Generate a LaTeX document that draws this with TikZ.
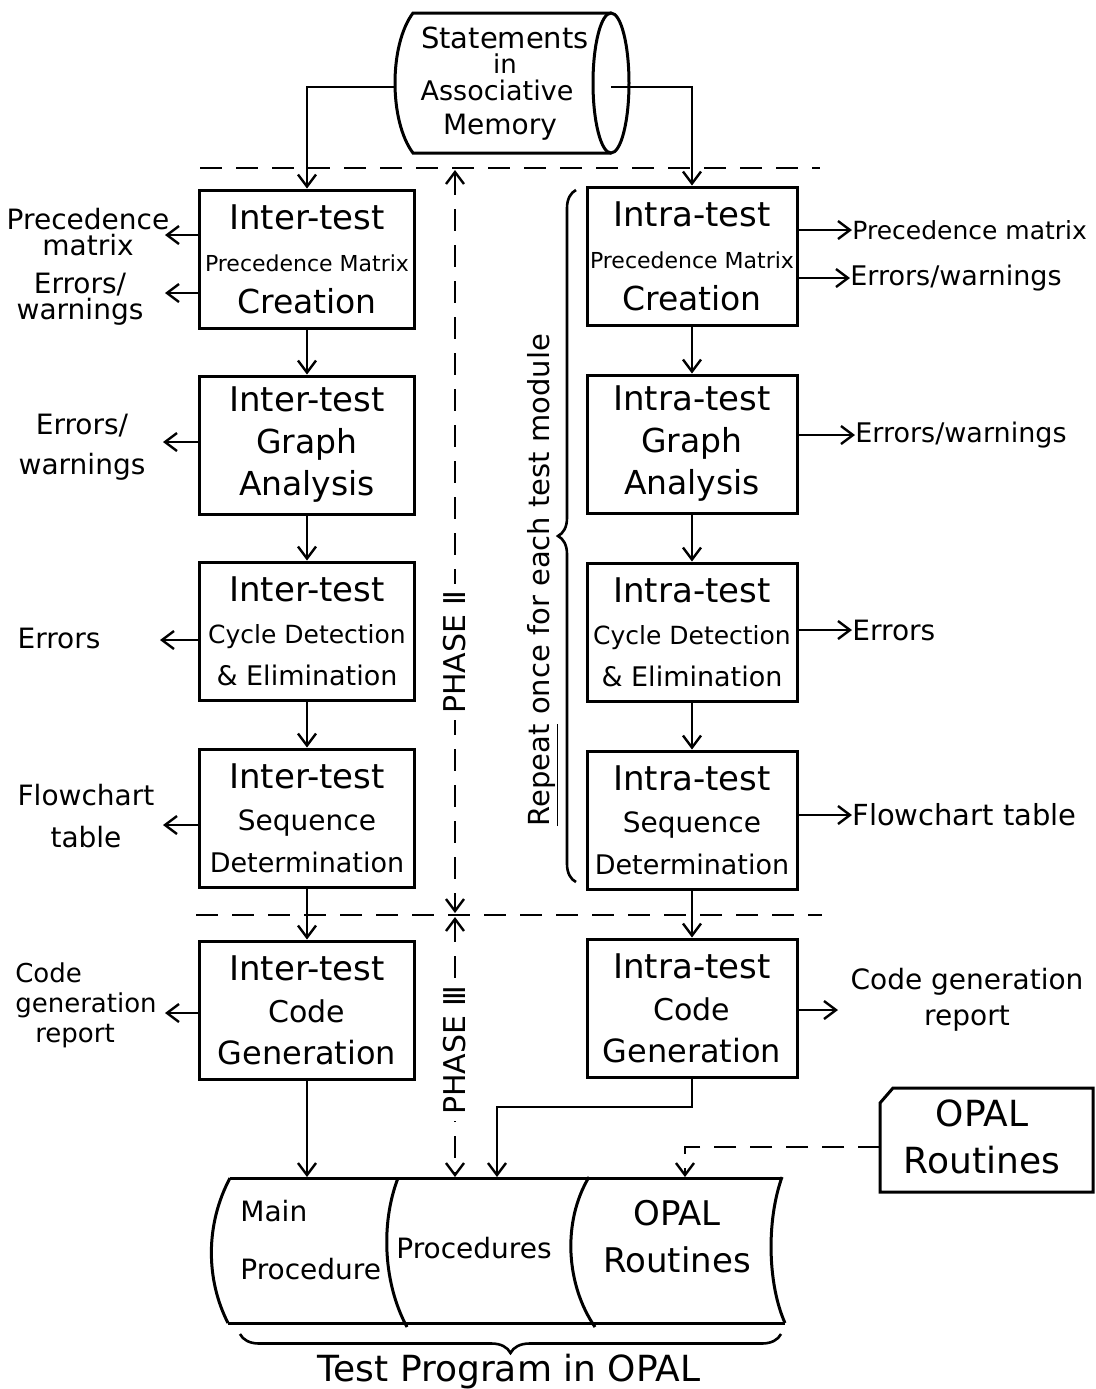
\documentclass[tikz,border=0pt]{standalone}
\usepackage{fontspec}
\setmainfont{DejaVu Sans}
\usetikzlibrary{arrows.meta,decorations.pathreplacing}
\newcommand\hsz[1]{\fontsize{#1}{21}\selectfont}
\begin{document}
\begin{tikzpicture}[x=0.5pt,y=-0.5pt,
  >={Straight Barb[length=6pt,width=9pt,line width=1.2pt]},
  proc/.style={draw, line width=1.5pt, minimum width=107.5pt, minimum height=69pt,
               align=center, inner sep=0pt, font=\hsz{17}},
  procr/.style={proc, minimum width=105pt},
  flow/.style={line width=1.2pt, ->},
  phase/.style={line width=1.4pt, dash pattern=on 11pt off 7pt},
  lbl/.style={align=center, inner sep=0pt, font=\fontsize{14}{13}\selectfont},
  lblr/.style={anchor=west, inner sep=0pt, font=\fontsize{13.5}{13}\selectfont},
  outline/.style={line width=1.5pt},
  brc/.style={line width=1.3pt, decorate},
]
\useasboundingbox (0,0) rectangle (1096,1389);

% ---------- associative memory (horizontal drum) ----------
\draw[outline] (611,13) -- (413,13) .. controls (389,45) and (389,121) .. (413,153) -- (611,153);
\draw[outline] (611,83) ellipse [x radius=9pt, y radius=35pt];
\node[inner sep=0pt, font=\fontsize{14.5}{14}\selectfont] (memA) at (505,38) {Statements};
\node[inner sep=0pt, font=\fontsize{13}{14}\selectfont] (memB) at (505,64) {in};
\node[inner sep=0pt, font=\fontsize{13.5}{14}\selectfont] (memC) at (497,90) {Associative};
\node[inner sep=0pt, font=\fontsize{14}{14}\selectfont] (memD) at (500,127) {Memory};
\coordinate (memL) at (395,87);
\coordinate (memR) at (611,87);

% ---------- inter-test column ----------
\node[proc] (L1) at (307,259) {Inter-test\\{\hsz{11}Precedence Matrix}\\{\hsz{16.5}Creation}};
\node[proc] (L2) at (307,445) {Inter-test\\{\hsz{16.5}Graph}\\{\hsz{16.5}Analysis}};
\node[proc] (L3) at (307,631) {Inter-test\\{\hsz{12.5}Cycle Detection}\\{\hsz{13.5}\& Elimination}};
\node[proc] (L4) at (307,818) {Inter-test\\{\hsz{14}Sequence}\\{\hsz{13.5}Determination}};
\node[proc] (L5) at (307,1010) {Inter-test\\{\hsz{15}Code}\\{\hsz{16}Generation}};

% ---------- intra-test column ----------
\node[procr] (R1) at (692,256) {Intra-test\\{\hsz{11}Precedence Matrix}\\{\hsz{16.5}Creation}};
\node[procr] (R2) at (692,444) {Intra-test\\{\hsz{16.5}Graph}\\{\hsz{16.5}Analysis}};
\node[procr] (R3) at (692,632) {Intra-test\\{\hsz{12.5}Cycle Detection}\\{\hsz{13.5}\& Elimination}};
\node[procr] (R4) at (692,820) {Intra-test\\{\hsz{14}Sequence}\\{\hsz{13.5}Determination}};
\node[procr] (R5) at (692,1008) {Intra-test\\{\hsz{15}Code}\\{\hsz{16}Generation}};

% feeds from the memory
\draw[flow] (memL) -| (L1.north);
\draw[flow] (memR) -| (R1.north);

% vertical chains
\foreach \a/\b in {L1/L2,L2/L3,L3/L4,L4/L5,R1/R2,R2/R3,R3/R4,R4/R5}
  \draw[flow] (\a.south) -- (\b.north);

% ---------- left outputs ----------
\node[lbl] (pmL) at (88,232) {Precedence\\matrix};
\node[lbl] (ewL1) at (80,299) {Errors/\\warnings};
\node[lbl, font=\fontsize{14}{20}\selectfont] (ewL2) at (82,447) {Errors/\\warnings};
\node[lbl] (errL3) at (59,638) {Errors};
\node[lbl, font=\fontsize{14}{21}\selectfont] (fcL) at (86,816) {Flowchart\\table};
\node[lbl, align=left, font=\fontsize{13}{15}\selectfont] (cgL) at (86,1005) {Code\\generation\\\hspace*{10pt}report};
\coordinate (a1) at (165,235);
\coordinate (a2) at (165,293);
\coordinate (a3) at (163,442);
\coordinate (a4) at (160,640);
\coordinate (a5) at (163,825);
\coordinate (a6) at (165,1013);
\draw[flow] (L1.west |- a1) -- (a1);
\draw[flow] (L1.west |- a2) -- (a2);
\draw[flow] (L2.west |- a3) -- (a3);
\draw[flow] (L3.west |- a4) -- (a4);
\draw[flow] (L4.west |- a5) -- (a5);
\draw[flow] (L5.west |- a6) -- (a6);

% ---------- right outputs ----------
\node[lblr, font=\fontsize{12.5}{13}\selectfont] (pmR) at (852,230) {Precedence matrix};
\node[lblr] (ewR1) at (850,278) {Errors/warnings};
\node[lblr] (ewR2) at (855,435) {Errors/warnings};
\node[lblr, font=\fontsize{14}{13}\selectfont] (errR3) at (852,630) {Errors};
\node[lblr, font=\fontsize{14.5}{13}\selectfont] (fcR) at (852,815) {Flowchart table};
\node[lbl, font=\fontsize{14}{18}\selectfont] (cgR) at (967,1000) {Code generation\\report};
\draw[flow] (R1.east |- pmR.west) -- (pmR.west);
\draw[flow] (R1.east |- ewR1.west) -- (ewR1.west);
\draw[flow] (R2.east |- ewR2.west) -- (ewR2.west);
\draw[flow] (R3.east |- errR3.west) -- (errR3.west);
\draw[flow] (R4.east |- fcR.west) -- (fcR.west);
\coordinate (b6) at (838,1010);
\draw[flow] (R5.east |- b6) -- (b6);

% ---------- phase boundaries ----------
\coordinate (d1a) at (200,168);
\coordinate (d1b) at (820,168);
\coordinate (d2a) at (196,915);
\coordinate (d2b) at (822,915);
\draw[phase] (d1a) -- (d1b);
\draw[phase] (d2a) -- (d2b);

\coordinate (p2t) at (455,170);
\coordinate (p2b) at (455,913);
\coordinate (p3t) at (455,917);
\coordinate (p3b) at (455,1177);
\draw[phase, <->] (p2t) -- (p2b);
\draw[phase, <->] (p3t) -- (p3b);
\node[rotate=90, fill=white, inner sep=3pt, font=\fontsize{15}{15}\selectfont] (ph2) at (455,652) {PHASE Ⅱ};
\node[rotate=90, fill=white, inner sep=3pt, font=\fontsize{15}{15}\selectfont] (ph3) at (455,1050) {PHASE Ⅲ};

% repetition brace
\draw[brc, decoration={brace, amplitude=9pt}] (576,882) -- (576,190);
\node[rotate=90, inner sep=0pt, font=\fontsize{14.5}{15}\selectfont] (rep) at (543,580)
  {\underline{Repeat} once for each test module};

% ---------- OPAL routines library ----------
\draw[outline] (893,1088) -- (1093,1088) -- (1093,1192) -- (880,1192) -- (880,1103) -- cycle;
\node[align=center, inner sep=0pt, font=\fontsize{18}{23.5}\selectfont] (card) at (982,1137) {OPAL\\Routines};
\coordinate (cardW) at (880,1147);

% ---------- test program (stored data) ----------
\draw[outline] (230,1178) -- (782,1178);
\draw[outline] (228,1323) -- (785,1323);
\draw[outline] (230,1178) .. controls (205,1225) and (206,1280) .. (228,1323);
\draw[outline] (398,1178) .. controls (380,1225) and (384,1285) .. (407,1327);
\draw[outline] (589,1177) .. controls (562,1222) and (566,1285) .. (595,1327);
\draw[outline] (782,1177) .. controls (766,1222) and (768,1285) .. (785,1323);
\node[align=left, anchor=west, inner sep=0pt, font=\fontsize{14}{29}\selectfont] (mainp) at (240,1240) {Main\\Procedure};
\node[inner sep=0pt, font=\fontsize{14}{15}\selectfont] (procs) at (474,1248) {Procedures};
\node[align=center, inner sep=0pt, font=\fontsize{17}{23.5}\selectfont] (opalp) at (677,1237) {OPAL\\Routines};

\coordinate (mainIn) at (307,1177);
\coordinate (procIn) at (497,1177);
\coordinate (opalIn) at (685,1177);
\coordinate (bend) at (497,1107);
\draw[flow] (L5.south) -- (mainIn);
\draw[flow] (R5.south) |- (bend) -- (procIn);
\draw[phase, ->] (cardW) -| (opalIn);

\draw[brc, decoration={brace, amplitude=9.5pt}] (781,1334) -- (240,1334);
\node[inner sep=0pt, font=\fontsize{18}{18}\selectfont] (tp) at (509,1372) {Test Program in OPAL};
\end{tikzpicture}
\end{document}
